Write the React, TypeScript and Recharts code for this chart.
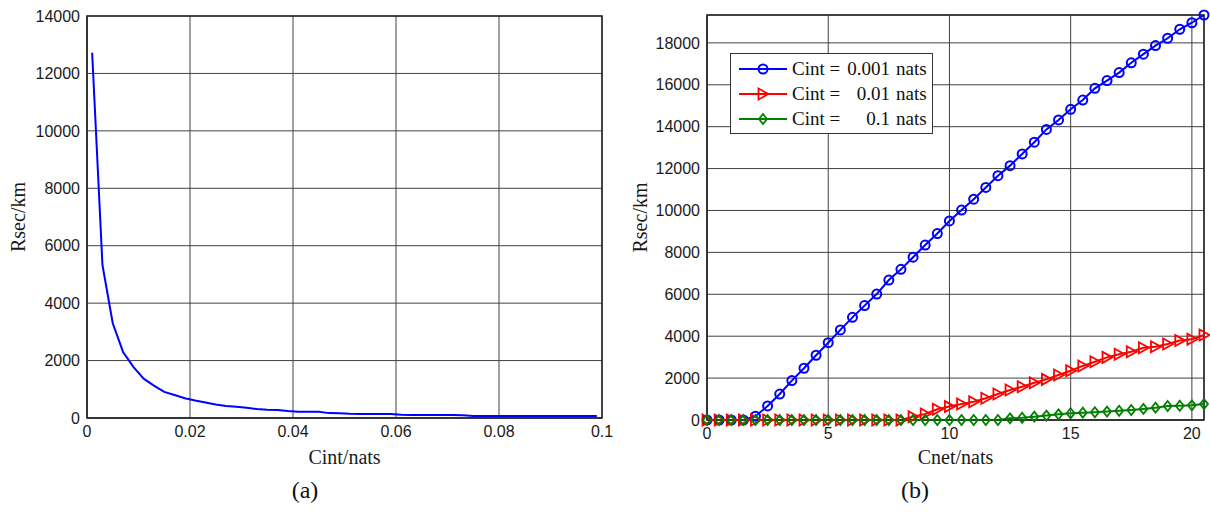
import React from 'react';
import { LineChart, Line, XAxis, YAxis, CartesianGrid, ReferenceArea, Legend } from 'recharts';

// (a) Rsec vs Cint
const cintValues = [
  0.001, 0.003, 0.005, 0.007, 0.009, 0.011, 0.013, 0.015, 0.017, 0.019,
  0.021, 0.023, 0.025, 0.027, 0.029, 0.031, 0.033, 0.035, 0.037, 0.039,
  0.041, 0.043, 0.045, 0.047, 0.049, 0.051, 0.053, 0.055, 0.057, 0.059,
  0.061, 0.063, 0.065, 0.067, 0.069, 0.071, 0.073, 0.075, 0.077, 0.079,
  0.081, 0.083, 0.085, 0.087, 0.089, 0.091, 0.093, 0.095, 0.097, 0.099,
];
const rsecByCint = [
  12720, 5330, 3300, 2300, 1780, 1370, 1130, 910, 800, 690,
  610, 540, 470, 420, 390, 360, 310, 290, 280, 240,
  220, 220, 215, 170, 164, 145, 139, 139, 139, 139,
  110, 105, 105, 105, 105, 105, 100, 70, 70, 70,
  70, 70, 70, 70, 70, 70, 70, 70, 70, 70,
];
const leftXTicks = [0, 0.02, 0.04, 0.06, 0.08, 0.1];
const leftYTicks = [0, 2000, 4000, 6000, 8000, 10000, 12000, 14000];

// (b) Rsec vs Cnet for three Cint values
const cnetValues = [
  0, 0.5, 1, 1.5, 2, 2.5, 3, 3.5, 4, 4.5, 5, 5.5, 6, 6.5, 7, 7.5, 8, 8.5, 9, 9.5,
  10, 10.5, 11, 11.5, 12, 12.5, 13, 13.5, 14, 14.5, 15, 15.5, 16, 16.5, 17, 17.5,
  18, 18.5, 19, 19.5, 20, 20.5,
];
const rsecCint0001 = [
  0, 0, 0, 0, 180, 670, 1240, 1880, 2470, 3090, 3690, 4300, 4900, 5460, 6010, 6680,
  7190, 7770, 8350, 8900, 9500, 10020, 10540, 11100, 11660, 12140, 12700, 13260,
  13870, 14320, 14830, 15270, 15830, 16200, 16580, 17050, 17460, 17870, 18220,
  18650, 18960, 19330,
];
const rsecCint001 = [
  0, 0, 0, 0, 0, 0, 0, 0, 0, 0, 0, 0, 0, 0, 0, 0, 0,
  160, 290, 510, 640, 760, 870, 1040, 1240, 1430, 1590, 1780, 1940, 2150, 2350,
  2580, 2780, 2990, 3140, 3260, 3450, 3500, 3630, 3790, 3850, 4060,
];
const rsecCint01 = [
  0, 0, 0, 0, 0, 0, 0, 0, 0, 0, 0, 0, 0, 0, 0, 0, 0, 0, 0, 0, 0, 0, 0, 0, 0,
  80, 110, 160, 210, 270, 320, 350, 370, 400, 440, 480, 530, 590, 670, 680, 700, 760,
];
const legendLabels = ['0.001', '0.01', '0.1'];
const rightXTicks = [0, 5, 10, 15, 20];
const rightYTicks = [0, 2000, 4000, 6000, 8000, 10000, 12000, 14000, 16000, 18000];

const leftData = cintValues.map((x, i) => ({ x, rsec: rsecByCint[i] }));
const rightData = cnetValues.map((x, i) => ({
  x,
  c0001: rsecCint0001[i],
  c001: rsecCint001[i],
  c01: rsecCint01[i],
}));
const rightYMax = Math.max(...rsecCint0001);

const BLUE = '#0000ff';
const RED = '#ff0000';
const GREEN = '#008000';
const AXIS = '#262626';
const GRID = '#404040';

const tickStyle = { fill: '#1a1a1a', fontSize: 16, fontFamily: '"Liberation Sans", Arial, sans-serif' };
const labelStyle = { fill: '#1a1a1a', fontSize: 20, fontFamily: '"Liberation Serif", "Times New Roman", serif' };

const Circle = ({ cx, cy, color }: any) => (
  <circle cx={cx} cy={cy} r={4.5} stroke={color} strokeWidth={2} fill="none" />
);
const Triangle = ({ cx, cy, color }: any) => (
  <polygon
    points={`${cx - 4.5},${cy - 5.5} ${cx - 4.5},${cy + 5.5} ${cx + 5.5},${cy}`}
    stroke={color}
    strokeWidth={1.8}
    fill="none"
  />
);
const Diamond = ({ cx, cy, color }: any) => (
  <polygon
    points={`${cx},${cy - 5} ${cx + 4},${cy} ${cx},${cy + 5} ${cx - 4},${cy}`}
    stroke={color}
    strokeWidth={1.8}
    fill="none"
  />
);

const makeDot = (Marker: any, color: string) => (props: any) => {
  const { cx, cy, index } = props;
  if (cx == null || cy == null) return <g key={`d-${index}`} />;
  return (
    <g key={`d-${index}`}>
      <Marker cx={cx} cy={cy} color={color} />
    </g>
  );
};

const seriesOrder = ['c0001', 'c001', 'c01'];
const seriesStyle: Record<string, { color: string; Marker: any }> = {
  c0001: { color: BLUE, Marker: Circle },
  c001: { color: RED, Marker: Triangle },
  c01: { color: GREEN, Marker: Diamond },
};

const renderLegend = () => (
  <div
    style={{
      boxSizing: 'border-box',
      border: '1px solid #333',
      background: '#fff',
      width: 203,
      padding: '2px 0',
      fontFamily: '"Liberation Serif", "Times New Roman", serif',
      fontSize: 19,
      color: '#111',
    }}
  >
    {seriesOrder.map((key, i) => {
      const { color, Marker } = seriesStyle[key];
      return (
        <div key={key} style={{ display: 'flex', alignItems: 'center', height: 25, whiteSpace: 'pre' }}>
          <svg width={48} height={14} style={{ marginLeft: 8, flex: 'none' }}>
            <line x1={0} y1={7} x2={48} y2={7} stroke={color} strokeWidth={2} />
            <Marker cx={24} cy={7} color={color} />
          </svg>
          <span style={{ marginLeft: 5, width: 50, display: 'inline-block', flex: 'none' }}>Cint =</span>
          <span style={{ width: 48, display: 'inline-block', textAlign: 'right', flex: 'none' }}>{legendLabels[i]}</span>
          <span style={{ marginLeft: 6 }}>nats</span>
        </div>
      );
    })}
  </div>
);

const caption = (text: string, left: number) => (
  <div
    style={{
      position: 'absolute',
      left: left - 30,
      width: 60,
      top: 477,
      textAlign: 'center',
      fontFamily: '"Liberation Serif", "Times New Roman", serif',
      fontSize: 24,
      color: '#111',
    }}
  >
    {text}
  </div>
);

export default function App() {
  return (
    <div style={{ position: 'absolute', left: 0, top: 0, width: 1210, height: 512, background: '#fff' }}>
      <div style={{ position: 'absolute', left: 0, top: 0 }}>
        <LineChart width={620} height={470} data={leftData} margin={{ top: 16, right: 18, bottom: 0, left: 0 }}>
          <CartesianGrid stroke={GRID} strokeWidth={1} />
          <ReferenceArea x1={0} x2={0.1} y1={0} y2={14000} fill="none" stroke={AXIS} strokeWidth={1.5} />
          <XAxis
            type="number"
            dataKey="x"
            domain={[0, 0.1]}
            ticks={leftXTicks}
            height={52}
            tick={tickStyle}
            tickLine={false}
            tickSize={6}
            axisLine={{ stroke: AXIS }}
            label={{ value: 'Cint/nats', position: 'insideBottom', offset: 6, style: labelStyle }}
          />
          <YAxis
            type="number"
            domain={[0, 14000]}
            ticks={leftYTicks}
            width={87}
            tick={tickStyle}
            tickLine={false}
            tickSize={5}
            axisLine={{ stroke: AXIS }}
            label={{ value: 'Rsec/km', angle: -90, position: 'insideLeft', offset: 18, style: { ...labelStyle, textAnchor: 'middle' } }}
          />
          <Line type="linear" dataKey="rsec" stroke={BLUE} strokeWidth={2} dot={false} isAnimationActive={false} />
        </LineChart>
      </div>
      <div style={{ position: 'absolute', left: 620, top: 0 }}>
        <LineChart width={590} height={470} data={rightData} margin={{ top: 15, right: 6, bottom: 0, left: 0 }}>
          <CartesianGrid stroke={GRID} strokeWidth={1} />
          <ReferenceArea x1={0} x2={20.5} y1={0} y2={rightYMax} fill="none" stroke={AXIS} strokeWidth={1.5} />
          <XAxis
            type="number"
            dataKey="x"
            domain={[0, 'dataMax']}
            ticks={rightXTicks}
            height={50}
            tick={tickStyle}
            tickLine={false}
            tickSize={6}
            axisLine={{ stroke: AXIS }}
            label={{ value: 'Cnet/nats', position: 'insideBottom', offset: 6, style: labelStyle }}
          />
          <YAxis
            type="number"
            domain={[0, rightYMax]}
            ticks={rightYTicks}
            width={87}
            tick={tickStyle}
            tickLine={false}
            tickSize={5}
            axisLine={{ stroke: AXIS }}
            label={{ value: 'Rsec/km', angle: -90, position: 'insideLeft', offset: 20, style: { ...labelStyle, textAnchor: 'middle' } }}
          />
          <Legend
            layout="vertical"
            align="center"
            verticalAlign="middle"
            content={renderLegend}
            wrapperStyle={{ left: 110, top: 53, width: 203 }}
          />
          {seriesOrder.map((key) => (
            <Line
              key={key}
              type="linear"
              dataKey={key}
              name={`Cint = ${legendLabels[seriesOrder.indexOf(key)]} nats`}
              stroke={seriesStyle[key].color}
              strokeWidth={2}
              dot={makeDot(seriesStyle[key].Marker, seriesStyle[key].color)}
              activeDot={false}
              isAnimationActive={false}
            />
          ))}
        </LineChart>
      </div>
      {caption('(a)', 305)}
      {caption('(b)', 915)}
    </div>
  );
}
